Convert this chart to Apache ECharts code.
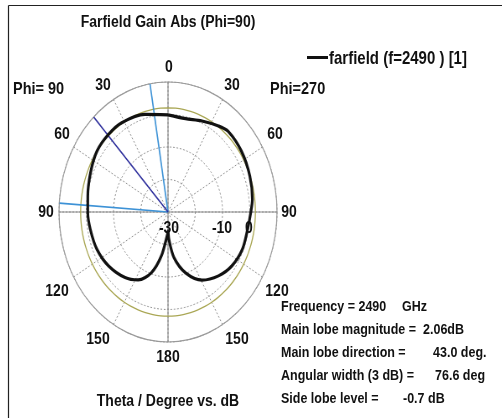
<!DOCTYPE html>
<html><head><meta charset="utf-8">
<script src="https://cdn.jsdelivr.net/npm/echarts@6/dist/echarts.min.js"></script>
<style>
html,body{margin:0;padding:0;background:#fff;width:502px;height:418px;overflow:hidden;}
#polar{position:absolute;left:17.5px;top:61.5px;width:300px;height:300px;transform:scaleX(0.8385);transform-origin:50% 50%;}
#overlay{position:absolute;left:0;top:0;width:502px;height:418px;pointer-events:none;}
</style></head><body>
<div id="polar"></div><div id="overlay"></div>
<script>
// ---- data (theta in degrees, gain in dB) ----
const rightTheta = [0, 12.6, 24, 35, 41.7, 55.2, 69.8, 82.8, 90, 99.7, 112.8, 125.4, 136.7, 149.2, 161, 171.1, 177.8, 180];
const rightGain  = [-0.1, -0.56, 0.65, 2.3, 3.2, 2.8, 2.0, 1.2, 0.4, -0.3, -0.4, -1.3, -3.0, -5.6, -10.2, -15.8, -21.6, -24.2];
const leftTheta  = [0, 15.8, 31.7, 42.3, 54.3, 67, 80.5, 90, 100.6, 113.8, 127.3, 142, 152.4, 162, 169.8, 178.2, 180];
const leftGain   = [-0.1, 1.2, 2.3, 2.36, 2.1, 0.9, -0.15, -0.55, -1.0, -1.5, -2.6, -4.4, -6.4, -10.4, -16.3, -23.1, -24.2];
const mainLobeMagnitude = 2.06;   // dB
const mainLobeDirection = 43.0;   // deg (Phi=90 side)
const beamEdges = [9.5, 86.1];    // 3 dB edges (Phi=90 side)
const radialMin = -30, radialMax = 10, radialStep = 10;
const angleTickLabels = ['0', '30', '60', '90', '120', '150', '180'];
const radialTickLabels = ['-30', '-10', '0'];
const seriesName = 'farfield (f=2490 ) [1]';
const infoLabels = ['Frequency = 2490', 'Main lobe magnitude =', 'Main lobe direction =', 'Angular width (3 dB) =', 'Side lobe level ='];
const infoValues = ['GHz', '2.06dB', '43.0 deg.', '76.6 deg', '-0.7 dB'];

// ---- polar chart (stretched to an ellipse with CSS) ----
const pattern = [];
rightTheta.forEach((t, i) => pattern.push([rightGain[i], t]));
for (let i = leftTheta.length - 1; i >= 0; i--) pattern.push([leftGain[i], 360 - leftTheta[i]]);

const ring = [];
for (let a = 0; a <= 360; a += 5) ring.push([mainLobeMagnitude, a]);

const polar = echarts.init(document.getElementById('polar'), null, {renderer: 'canvas'});
const spoke = a => [[radialMax, a], [radialMin, a]];
polar.setOption({
  animation: false,
  backgroundColor: 'transparent',
  polar: {center: ['50%', '50%'], radius: 130},
  angleAxis: {
    type: 'value', min: 0, max: 360, interval: 30, startAngle: 90, clockwise: true,
    axisLine: {show: true, lineStyle: {color: '#9a9a9a', width: 1.2}},
    axisTick: {show: false}, axisLabel: {show: false},
    splitLine: {show: true, lineStyle: {color: '#8f8f8f', type: [2, 2], width: 1}}
  },
  radiusAxis: {
    type: 'value', min: radialMin, max: radialMax, interval: radialStep,
    axisLine: {show: false}, axisTick: {show: false}, axisLabel: {show: false},
    splitLine: {show: true, lineStyle: {color: '#8f8f8f', type: [2, 2], width: 1}}
  },
  series: [
    {type: 'line', coordinateSystem: 'polar', data: [[radialMax, 0], [radialMin, 0], [radialMax, 180]], symbol: 'none', silent: true,
     lineStyle: {color: '#8c8c8c', width: 1.2}, z: 2},
    {type: 'line', coordinateSystem: 'polar', data: [[radialMax, 90], [radialMin, 90], [radialMax, 270]], symbol: 'none', silent: true,
     lineStyle: {color: '#8c8c8c', width: 1.2}, z: 2},
    {type: 'line', coordinateSystem: 'polar', data: ring, symbol: 'none', smooth: true, silent: true,
     lineStyle: {color: '#a9a653', width: 1.3}, z: 3},
    {type: 'line', coordinateSystem: 'polar', data: spoke(360 - beamEdges[0]), symbol: 'none', silent: true,
     lineStyle: {color: '#3d92d6', width: 1.6}, z: 4},
    {type: 'line', coordinateSystem: 'polar', data: spoke(360 - beamEdges[1]), symbol: 'none', silent: true,
     lineStyle: {color: '#3d92d6', width: 1.6}, z: 4},
    {type: 'line', coordinateSystem: 'polar', data: spoke(360 - mainLobeDirection), symbol: 'none', silent: true,
     lineStyle: {color: '#2e2f9c', width: 1.6}, z: 4},
    {name: seriesName, type: 'line', coordinateSystem: 'polar', data: pattern, symbol: 'none', smooth: 0.3,
     lineStyle: {color: '#111', width: 3.2}, z: 10}
  ]
});

// ---- overlay with texts (vertically stretched like the reference) ----
const overlay = echarts.init(document.getElementById('overlay'));
const SY = 1.18;
const font = (s) => ({fontFamily: 'Liberation Sans, Arial, sans-serif', fontWeight: 'bold', fontSize: s, fill: '#111'});
const txt = (t, x, y, s, align) => ({type: 'text', x: x, y: y, scaleY: SY,
  style: Object.assign(font(s), {text: t, textAlign: align || 'center', textVerticalAlign: 'middle'})});

const angPosLeft  = [[169, 67], [103, 85], [62, 134], [46, 212], [57, 291], [98, 339], [168, 357]];
const angPosRight = [null, [232, 85], [275, 134], [289, 212], [277, 291], [237, 339], null];
const radPos = [[169, 228], [222, 228], [249, 228]];
const infoY = [307, 330, 353, 376, 399];
const infoValX = [402, 423, 433, 435, 403];

const g = [];
g.push({type: 'line', shape: {x1: 8.5, y1: 5.5, x2: 502, y2: 5.5}, style: {stroke: '#222', lineWidth: 1.2}});
g.push({type: 'line', shape: {x1: 8.5, y1: 5.5, x2: 8.5, y2: 418}, style: {stroke: '#222', lineWidth: 1.2}});
g.push(txt('Farfield Gain Abs (Phi=90)', 168, 22, 14));
angleTickLabels.forEach((l, i) => {
  g.push(txt(l, angPosLeft[i][0], angPosLeft[i][1], 14));
  if (angPosRight[i]) g.push(txt(l, angPosRight[i][0], angPosRight[i][1], 14));
});
radialTickLabels.forEach((l, i) => g.push(txt(l, radPos[i][0], radPos[i][1], 14)));
g.push(txt('Phi= 90', 13, 89, 14.5, 'left'));
g.push(txt('Phi=270', 270, 89, 14.5, 'left'));
g.push({type: 'line', shape: {x1: 307, y1: 57.5, x2: 328, y2: 57.5}, style: {stroke: '#111', lineWidth: 3}});
g.push(txt(seriesName, 329, 59, 15, 'left'));
g.push(txt('Theta / Degree vs. dB', 168, 401, 14));
infoLabels.forEach((l, i) => {
  g.push(txt(l, 281, infoY[i], 12.5, 'left'));
  g.push(txt(infoValues[i], infoValX[i], infoY[i], 12.5, 'left'));
});
overlay.setOption({animation: false, backgroundColor: 'transparent', graphic: g});
</script>
</body></html>
